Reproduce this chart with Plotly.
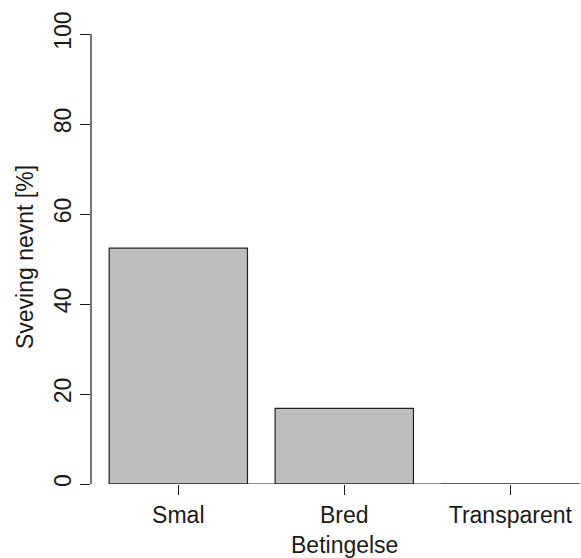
import plotly.graph_objects as go

categories = ["Smal", "Bred", "Transparent"]
values = [52.4, 16.8, 0.0]
y_ticks = [0, 20, 40, 60, 80, 100]
x_title = "Betingelse"
y_title = "Sveving nevnt [%]"

FONT = "Liberation Sans, Arial, sans-serif"
FS = 23
INK = "#1a1a1a"
BAR_W = 1 / 1.2  # R barplot default: width 1, space 0.2

fig = go.Figure()
fig.add_trace(go.Bar(
    x=list(range(len(categories))),
    y=values,
    width=BAR_W,
    marker=dict(color="#bebebe", line=dict(color="#222222", width=1.2)),
    hoverinfo="skip",
))

n = len(categories)
fig.update_layout(
    width=581, height=558,
    margin=dict(l=91, r=0, t=16, b=74),
    plot_bgcolor="white", paper_bgcolor="white",
    showlegend=False,
    font=dict(family=FONT, size=FS, color=INK),
    xaxis=dict(
        range=[-0.526, 2.426],
        tickmode="array", tickvals=list(range(n)), ticktext=categories,
        ticks="outside", ticklen=10, tickwidth=1.2, tickcolor=INK,
        showgrid=False, zeroline=False, showline=False,
        tickfont=dict(family=FONT, size=FS, color=INK),
    ),
    yaxis=dict(
        range=[0, 104],
        tickmode="array", tickvals=y_ticks, ticktext=[str(t) for t in y_ticks],
        ticks="outside", ticklen=10, tickwidth=1.2, tickcolor=INK,
        tickangle=-90,
        showgrid=False, zeroline=False, showline=False,
        tickfont=dict(family=FONT, size=FS, color=INK),
    ),
    shapes=[
        dict(type="line", xref="paper", yref="y", x0=0, x1=0,
             y0=min(y_ticks), y1=max(y_ticks), line=dict(color=INK, width=1.2)),
        dict(type="line", xref="x", yref="y", x0=0 - BAR_W / 2, x1=(n - 1) + BAR_W / 2,
             y0=0, y1=0, line=dict(color="#222222", width=1.2)),
    ],
    annotations=[
        dict(text=x_title, xref="x", yref="paper", x=1, y=-0.1303,
             xanchor="center", yanchor="middle", showarrow=False,
             font=dict(family=FONT, size=FS, color=INK)),
        dict(text=y_title, xref="paper", yref="paper", x=-0.1347, y=0.485,
             xanchor="center", yanchor="middle", textangle=-90, showarrow=False,
             font=dict(family=FONT, size=FS, color=INK)),
    ],
)

fig.write_html("out.html", config={"displayModeBar": False},
               post_script="document.body.style.margin='0';document.body.style.overflow='hidden';")
